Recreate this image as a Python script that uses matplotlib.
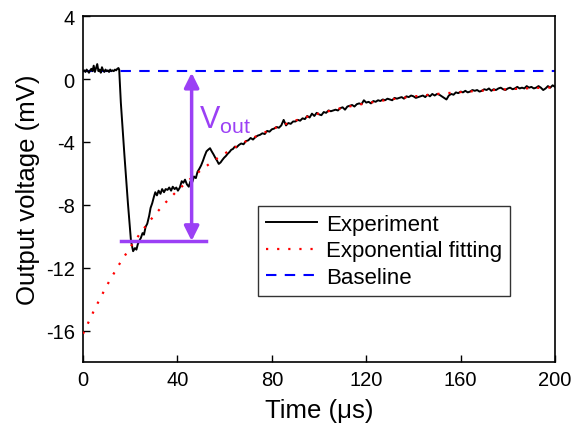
import matplotlib
matplotlib.use("Agg")
import matplotlib.pyplot as plt

plt.rcParams['font.family'] = ['Liberation Sans', 'DejaVu Sans']
plt.rcParams['mathtext.fontset'] = 'custom'
plt.rcParams['mathtext.rm'] = 'Liberation Sans'
plt.rcParams['mathtext.it'] = 'Liberation Sans'
plt.rcParams['axes.unicode_minus'] = False

# ---- Experiment trace (time in us, voltage in mV) ----
exp_t_pre = [0, 0.5, 1, 1.5, 2, 2.5, 3, 3.5, 4, 4.5, 5, 5.5, 6, 6.5, 7, 7.5,
             8, 8.5, 9, 9.5, 10, 10.5, 11, 11.5, 12, 12.5, 13, 13.5, 14, 14.5, 15]
exp_v_pre = [0.5, 0.55, 0.45, 0.6, 0.5, 0.4, 0.55, 0.65, 0.5, 0.85, 0.45, 0.7,
             0.95, 0.5, 0.6, 0.4, 0.75, 0.55, 0.45, 0.6, 0.5, 0.55, 0.45, 0.6,
             0.5, 0.55, 0.5, 0.6, 0.55, 0.65, 0.7]
exp_t_drop = [15.3, 16.0, 17.5, 19.0, 20.3, 21.2, 22.0, 22.6, 23.2, 23.8, 24.5,
              25.2, 25.8, 26.5, 27.2, 28.0, 28.6, 29.3, 30.0, 30.6, 31.3, 32.0,
              32.8, 33.5, 34.3, 35.0, 35.8, 36.5, 37.3, 38.0, 38.8, 39.5, 40.2,
              41.0, 41.8, 42.5, 43.2, 44.0, 44.8, 45.5, 46.3, 47.0, 47.8, 48.5,
              49.3, 50.0, 50.8, 51.5, 52.3, 53.0, 53.8, 54.5, 55.3, 56.0, 56.8,
              57.5, 58.3, 59.0, 59.8, 60.5, 61.3, 62.0, 62.8, 63.5, 64.3, 65.0]
exp_v_drop = [0.6, -1.5, -4.8, -7.9, -10.3, -10.95, -10.75, -10.85, -10.5, -10.3,
              -10.1, -9.8, -9.9, -9.4, -9.2, -8.7, -8.2, -7.9, -7.5, -7.2, -7.4,
              -7.1, -7.3, -7.0, -7.2, -7.0, -7.05, -6.9, -7.1, -6.85, -7.0, -6.9,
              -7.1, -6.9, -6.5, -6.6, -6.4, -6.7, -6.85, -6.5, -6.55, -6.2, -6.3,
              -5.9, -5.7, -5.5, -5.2, -4.9, -4.6, -4.5, -4.4, -4.6, -4.8, -5.0,
              -5.2, -5.4, -5.3, -5.15, -5.0, -4.9, -4.75, -4.65, -4.5, -4.45,
              -4.3, -4.35]
exp_t_tail = list(range(66, 201))
exp_v_tail = [-4.2, -4.1, -4.15, -3.95, -3.9, -3.75, -3.85, -3.7, -3.6, -3.55,
              -3.45, -3.5, -3.3, -3.35, -3.2, -3.15, -3.05, -3.1, -2.95, -2.6,
              -2.95, -2.8, -2.85, -2.7, -2.7, -2.6, -2.65, -2.5, -2.55, -2.35,
              -2.45, -2.2, -2.35, -2.15, -2.25, -2.3, -2.1, -2.15, -2.0, -2.05,
              -2.0, -1.95, -2.0, -1.85, -1.8, -1.95, -1.75, -1.7, -1.65, -1.75,
              -1.6, -1.55, -1.6, -1.35, -1.5, -1.45, -1.55, -1.4, -1.45, -1.35,
              -1.4, -1.3, -1.35, -1.25, -1.3, -1.35, -1.2, -1.25, -1.2, -1.15,
              -1.25, -1.1, -1.15, -1.05, -1.1, -1.2, -1.15, -1.1, -1.05, -1.15,
              -1.0, -1.1, -0.95, -1.05, -0.95, -1.0, -1.1, -1.2, -1.3, -1.05,
              -0.95, -1.0, -0.85, -0.9, -0.8, -0.85, -0.75, -0.85, -0.8, -0.7,
              -0.75, -0.7, -0.8, -0.75, -0.65, -0.7, -0.6, -0.75, -0.65, -0.7,
              -0.6, -0.55, -0.65, -0.7, -0.6, -0.55, -0.65, -0.6, -0.5, -0.6,
              -0.55, -0.6, -0.45, -0.55, -0.5, -0.6, -0.55, -0.45, -0.55, -0.7,
              -0.6, -0.45, -0.55, -0.4, -0.5]

# ---- Exponential fitting ----
fit_t = [0, 5, 10, 15, 20, 25, 30, 35, 40, 45, 50, 55, 60, 65, 70, 75, 80, 85,
         90, 95, 100, 110, 120, 130, 140, 150, 160, 170, 180, 190, 200]
fit_v = [-16.2, -14.6, -13.15, -11.86, -10.7, -9.65, -8.7, -7.85, -7.09, -6.41,
         -5.79, -5.23, -4.74, -4.29, -3.88, -3.53, -3.19, -2.91, -2.64, -2.4,
         -2.19, -1.83, -1.54, -1.3, -1.11, -0.95, -0.83, -0.73, -0.65, -0.58,
         -0.53]

# ---- Baseline ----
baseline_t = [0, 200]
baseline_v = [0.5, 0.5]

# ---- Vout annotation ----
vout_x = 46
vout_top = 0.4
vout_bottom = -10.3
hline_t = [16, 52]

exp_t = exp_t_pre + exp_t_drop + exp_t_tail
exp_v = exp_v_pre + exp_v_drop + exp_v_tail

purple = '#9B40F5'

fig = plt.figure(figsize=(5.73, 4.39), dpi=100)
ax = fig.add_axes([0.145, 0.173, 0.8236, 0.788])

ax.plot(exp_t, exp_v, color='black', lw=1.4, label='Experiment', zorder=3)
ax.plot(fit_t, fit_v, color='red', lw=1.6, linestyle=(0, (1, 4)),
        label='Exponential fitting', zorder=4)
ax.plot(baseline_t, baseline_v, color='blue', lw=1.5, linestyle=(0, (5, 4)),
        label='Baseline', zorder=2)

ax.plot(hline_t, [vout_bottom, vout_bottom], color=purple, lw=2.5, zorder=5)
ax.annotate('', xy=(vout_x, vout_top), xytext=(vout_x, vout_bottom),
            arrowprops=dict(arrowstyle='<|-|>', color=purple, lw=2.5,
                            mutation_scale=22, shrinkA=0, shrinkB=0), zorder=5)
ax.text(vout_x + 3, -2.6, r'$\mathrm{V_{out}}$', color=purple, fontsize=22,
        va='center', ha='left')

ax.set_xlim(0, 200)
ax.set_ylim(-18, 4)
ax.set_xticks([0, 40, 80, 120, 160, 200])
ax.set_yticks([4, 0, -4, -8, -12, -16])
ax.tick_params(direction='in', length=5, width=1, labelsize=14.5, pad=6)
for s in ax.spines.values():
    s.set_linewidth(1.2)

ax.set_xlabel('Time (\u03bcs)', fontsize=18.5, labelpad=6)
ax.set_ylabel('Output voltage (mV)', fontsize=18.5, labelpad=4)

leg = ax.legend(loc='upper left', bbox_to_anchor=(0.371, 0.451), borderaxespad=0,
                fontsize=16, frameon=True, fancybox=False, edgecolor='black',
                handlelength=2.3, labelspacing=0.25, borderpad=0.35,
                handletextpad=0.4)
leg.get_frame().set_linewidth(1.0)

fig.savefig('out.png', dpi=100)
